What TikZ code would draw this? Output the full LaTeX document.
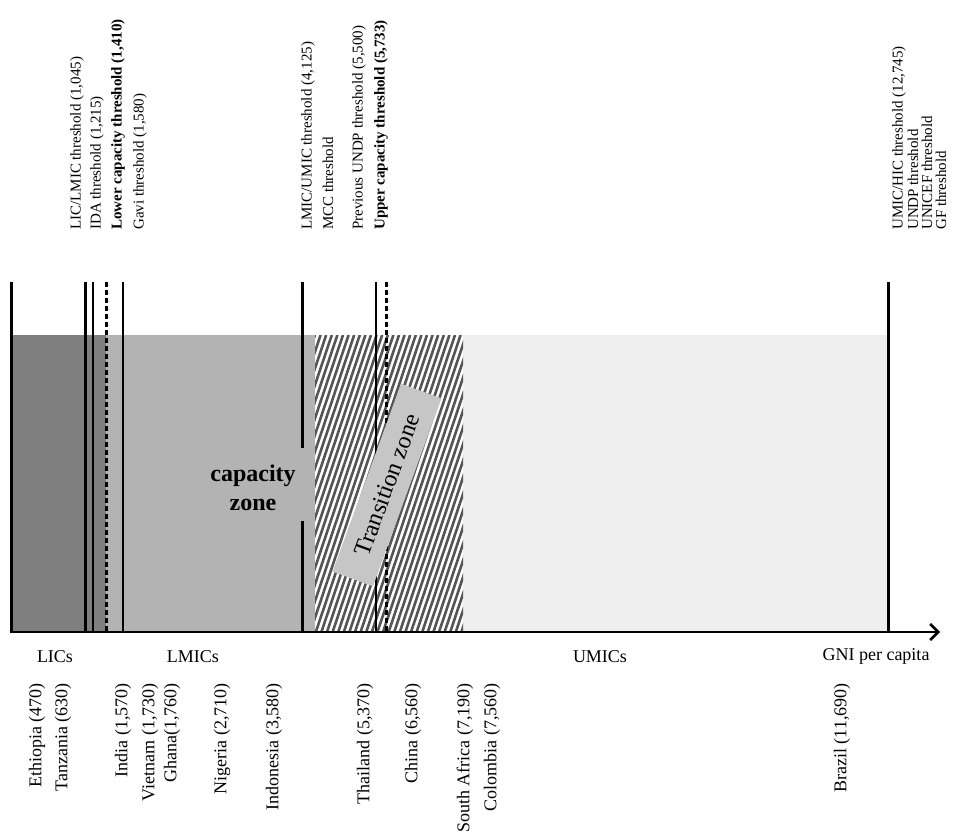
\documentclass[tikz,border=0pt]{standalone}
\usepackage{fontspec}
\setmainfont{Liberation Serif}
\usetikzlibrary{arrows.meta}
\definecolor{darkfill}{HTML}{7F7F7F}
\definecolor{midfill}{HTML}{B3B3B3}
\definecolor{lightfill}{HTML}{EFEFEF}
\definecolor{hatchcol}{HTML}{555555}
\definecolor{boxfill}{HTML}{C6C6C6}
\begin{document}
\begin{tikzpicture}[x=1pt,y=-1pt,
  thickrule/.style={line width=3pt},
  thinrule/.style={line width=1.3pt},
  dashrule/.style={line width=3pt, dash pattern=on 5pt off 3pt},
  toplabel/.style={rotate=90, anchor=west, inner sep=0pt, font=\fontsize{15}{17}\selectfont},
  country/.style={rotate=90, anchor=east, inner sep=0pt, font=\fontsize{18}{20}\selectfont},
  grouplabel/.style={inner sep=0pt, font=\fontsize{18}{20}\selectfont}]
\useasboundingbox (0,0) rectangle (956,832);
% fills
\fill[darkfill] (11,335) rectangle (106,632);
\fill[midfill] (106,335) rectangle (315,632);
\fill[white] (315,335) rectangle (463,632);
\fill[lightfill] (463,335) rectangle (888,632);
% hatch
\begin{scope}
\clip (315,335) rectangle (463,632);
\foreach \i in {0,...,46} {
  \draw[hatchcol, line width=2.6pt] ({215+5.6*\i},632) -- ({315+5.6*\i},335);
}
\end{scope}
% coordinates for threshold lines
\coordinate (l0T) at (11,282);  \coordinate (l0B) at (11,632);
\coordinate (l1T) at (85,282);  \coordinate (l1B) at (85,632);
\coordinate (l2T) at (93,282);  \coordinate (l2B) at (93,632);
\coordinate (l3T) at (106,282); \coordinate (l3B) at (106,632);
\coordinate (l4T) at (123,282); \coordinate (l4B) at (123,632);
\coordinate (l5T) at (302,282); \coordinate (l5M1) at (302,448);
\coordinate (l5M2) at (302,521); \coordinate (l5B) at (302,632);
\coordinate (l6T) at (376,282); \coordinate (l6B) at (376,632);
\coordinate (l7T) at (386,282); \coordinate (l7B) at (386,632);
\coordinate (l8T) at (888,282); \coordinate (l8B) at (888,632);
\draw[thickrule] (l0T) -- (l0B);
\draw[thickrule] (l1T) -- (l1B);
\draw[thinrule] (l2T) -- (l2B);
\draw[dashrule] (l3T) -- (l3B);
\draw[thinrule] (l4T) -- (l4B);
\draw[thickrule] (l5T) -- (l5M1);
\draw[thickrule] (l5M2) -- (l5B);
\draw[thinrule] (l6T) -- (l6B);
\draw[dashrule] (l7T) -- (l7B);
\draw[thickrule] (l8T) -- (l8B);
% axis
\coordinate (axL) at (10,632);
\coordinate (axR) at (940,632);
\draw[line width=2.5pt, -{Straight Barb[length=8pt,width=16pt]}] (axL) -- (axR);
% zone labels
\node[font=\bfseries\fontsize{24}{29}\selectfont, align=center, inner sep=0pt] (capzone) at (253,488) {capacity\\zone};
\node[fill=boxfill, rotate=70, minimum width=200pt, minimum height=43pt, inner sep=0pt, font=\fontsize{24}{28}\selectfont] (trans) at (387,485) {Transition zone};
% top labels
\node[toplabel] (t1) at (77,230) {LIC/LMIC threshold (1,045)};
\node[toplabel] (t2) at (97,230) {IDA threshold (1,215)};
\node[toplabel] (t3) at (118,230) {\textbf{Lower capacity threshold (1,410)}};
\node[toplabel] (t4) at (140,230) {Gavi threshold (1,580)};
\node[toplabel] (t5) at (308,230) {LMIC/UMIC threshold (4,125)};
\node[toplabel] (t6) at (328,230) {MCC threshold};
\node[toplabel] (t7) at (359,230) {Previous UNDP threshold (5,500)};
\node[toplabel] (t8) at (381,230) {\textbf{Upper capacity threshold (5,733)}};
\node[toplabel] (t9) at (899,230) {UMIC/HIC threshold (12,745)};
\node[toplabel] (t10) at (913,230) {UNDP threshold};
\node[toplabel] (t11) at (927,230) {UNICEF threshold};
\node[toplabel] (t12) at (941,230) {GF threshold};
% group labels
\node[grouplabel] (lics) at (55,657) {LICs};
\node[grouplabel] (lmics) at (193,657) {LMICs};
\node[grouplabel] (umics) at (600,657) {UMICs};
\node[grouplabel] (gni) at (876,656) {GNI per capita};
% countries
\node[country] (c1) at (37,683) {Ethiopia (470)};
\node[country] (c2) at (63,683) {Tanzania (630)};
\node[country] (c3) at (123,683) {India (1,570)};
\node[country] (c4) at (150,683) {Vietnam (1,730)};
\node[country] (c5) at (172,683) {Ghana(1,760)};
\node[country] (c6) at (222,683) {Nigeria (2,710)};
\node[country] (c7) at (274,683) {Indonesia (3,580)};
\node[country] (c8) at (365,683) {Thailand (5,370)};
\node[country] (c9) at (413,683) {China (6,560)};
\node[country] (c10) at (465,683) {South Africa (7,190)};
\node[country] (c11) at (492,683) {Colombia (7,560)};
\node[country] (c12) at (842,683) {Brazil (11,690)};
\end{tikzpicture}
\end{document}
